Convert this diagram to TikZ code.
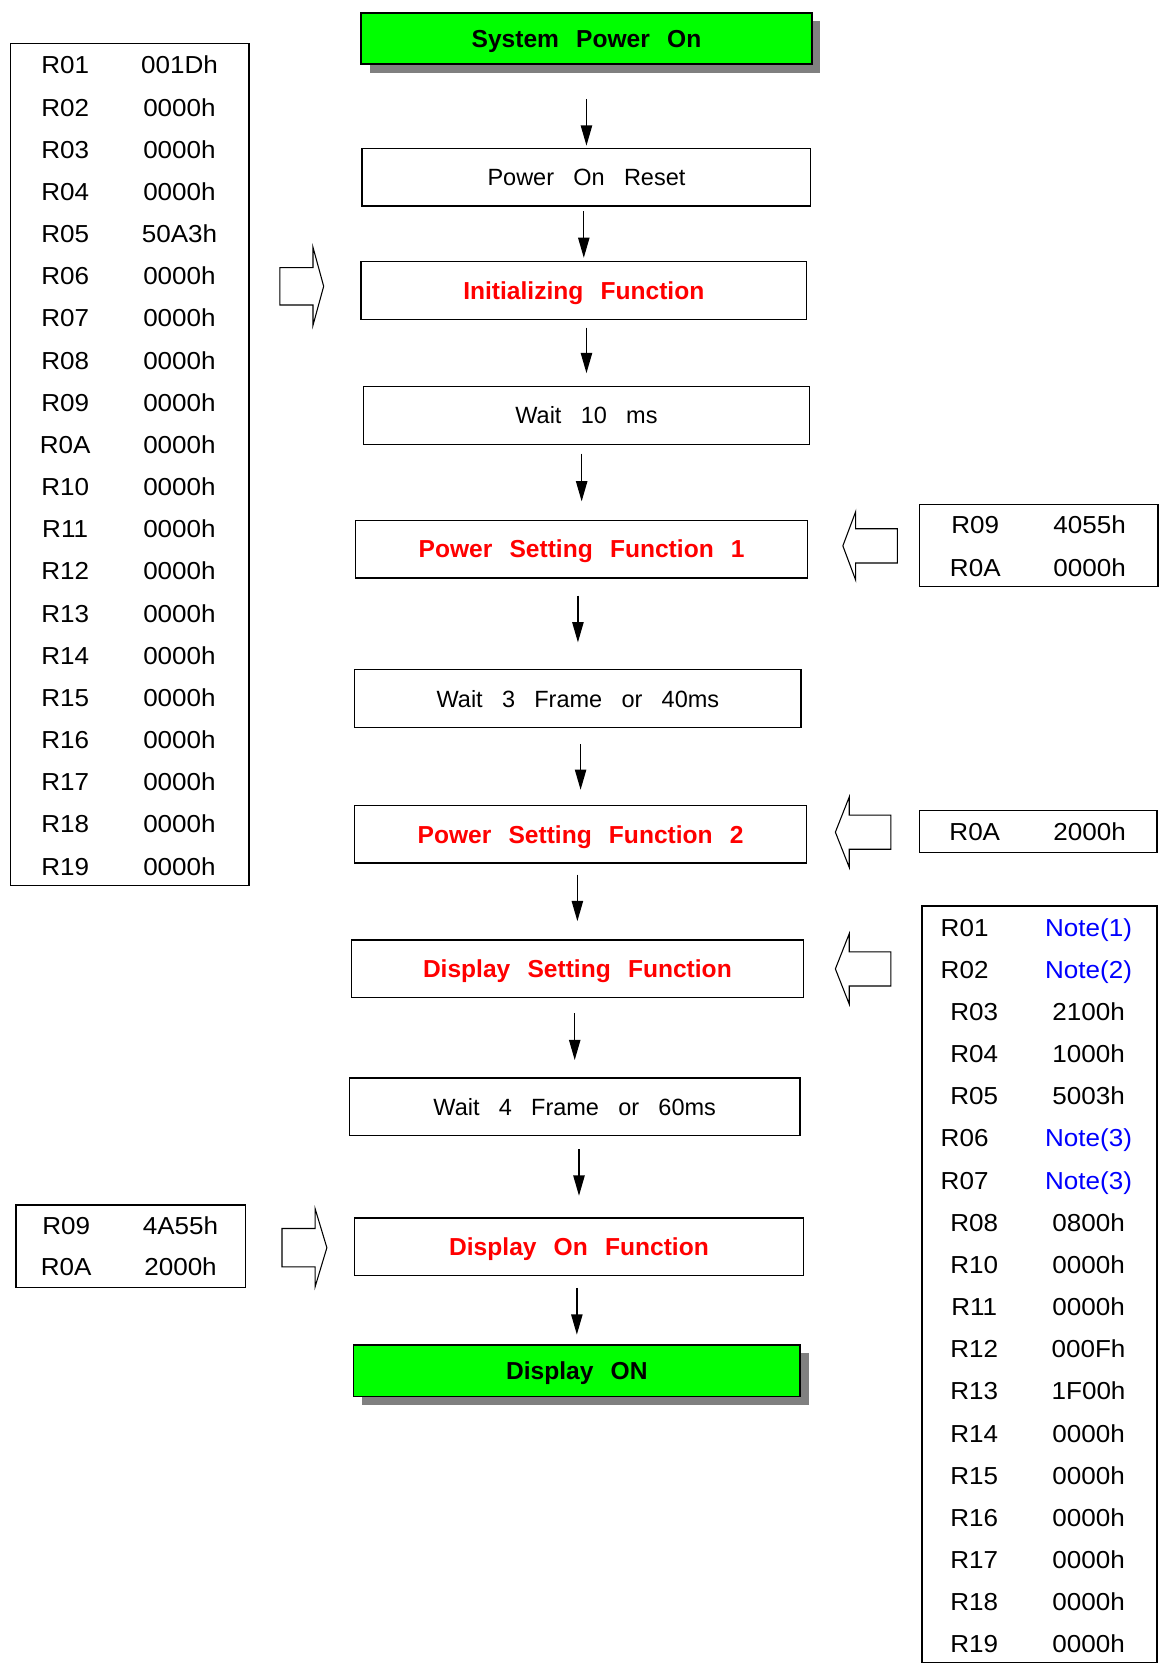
\documentclass[tikz,border=0pt]{standalone}
\usepackage{fontspec}
\setmainfont{Liberation Sans}
\newfontfamily\regfamily[FakeStretch=1.06]{Liberation Sans}
\usepackage{tikz}
\usetikzlibrary{arrows.meta,shadows}
\definecolor{pwgreen}{RGB}{0,255,0}
\definecolor{fnred}{RGB}{255,0,0}
\definecolor{noteblue}{RGB}{0,0,255}
\definecolor{shadowgray}{RGB}{128,128,128}
\newcommand{\stepfont}{\fontsize{22pt}{26pt}\selectfont\spaceskip=0.82em\relax}
\newcommand{\funcfont}{\fontsize{23pt}{27pt}\selectfont\bfseries\spaceskip=0.7em\relax}
\newcommand{\regfont}{\regfamily\fontsize{23pt}{27pt}\selectfont}
\tikzstyle{stepbox} = [rectangle, draw, line width=1.3pt, minimum height=54pt, inner sep=0pt, text height=15.8pt, text depth=0pt, font=\stepfont]
\tikzstyle{funcbox} = [stepbox, font=\funcfont, text=fnred, text height=16.5pt]
\tikzstyle{powerbox} = [stepbox, font=\funcfont, fill=pwgreen, minimum height=48pt, text height=16.5pt, drop shadow={shadow xshift=8pt, shadow yshift=-8pt, fill=shadowgray, opacity=1}]
\tikzstyle{regtable} = [rectangle, draw, line width=1.3pt, inner sep=0pt]
\tikzstyle{regtext} = [inner sep=0pt, text height=16.5pt, text depth=0pt, font=\regfont]
\tikzstyle{flow} = [line width=1.3pt, -{Triangle[length=19pt, width=10.6pt]}]
\tikzstyle{hollow} = [line width=1pt, line join=miter, fill=white]

\begin{document}
\begin{tikzpicture}[x=1pt, y=-1pt]
\useasboundingbox (0,0) rectangle (1093,1568);

% power up sequence
\node[powerbox, minimum width=422pt] (sysOn) at (549,36) {System Power On};
\node[stepbox, minimum width=420pt] (por) at (549,166) {Power On Reset};
\node[funcbox, minimum width=417pt] (init) at (546.5,272) {Initializing Function};
\node[stepbox, minimum width=418pt] (wait10) at (549,389) {Wait 10 ms};
\node[funcbox, minimum width=423pt] (psf1) at (544.5,514) {Power Setting Function 1};
\node[stepbox, minimum width=418pt] (wait3) at (541,654) {Wait 3 Frame or 40ms};
\node[funcbox, minimum width=423pt] (psf2) at (543.5,781) {Power Setting Function 2};
\node[funcbox, minimum width=423pt] (dsf) at (540.5,907) {Display Setting Function};
\node[stepbox, minimum width=422pt] (wait4) at (538,1036) {Wait 4 Frame or 60ms};
\node[funcbox, minimum width=420pt] (don) at (542,1167) {Display On Function};
\node[powerbox, minimum width=418pt] (dispOn) at (540,1283) {Display ON};

\foreach \a/\b/\s/\e in {sysOn/por/32/2, por/init/4/3, init/wait10/7/12, wait10/psf1/8/17, psf1/wait3/16/25, wait3/psf2/15/14, psf2/dsf/10/17, dsf/wait4/14/16, wait4/don/12/20, don/dispOn/11/9}
  \draw[flow, shorten <=\s pt, shorten >=\e pt] (\b.north |- \a.south) -- (\b.north);

% register tables
\node[regtable, minimum width=223pt, minimum height=788pt] (initRegs) at (121.5,435) {};
\foreach \reg/\val [count=\i] in {R01/001Dh, R02/0000h, R03/0000h, R04/0000h, R05/50A3h, R06/0000h, R07/0000h, R08/0000h, R09/0000h, R0A/0000h, R10/0000h, R11/0000h, R12/0000h, R13/0000h, R14/0000h, R15/0000h, R16/0000h, R17/0000h, R18/0000h, R19/0000h} {
  \node[regtext] (initReg\i) at (61,{61+39.47*(\i-1)}) {\reg};
  \node[regtext] (initVal\i) at (168,{61+39.47*(\i-1)}) {\val};
}

\node[regtable, minimum width=223pt, minimum height=77pt] (psfARegs) at (972.5,510.5) {};
\node[regtext] (psfAReg1) at (913,491) {R09};
\node[regtext] (psfAVal1) at (1020,491) {4055h};
\node[regtext] (psfAReg2) at (913,531) {R0A};
\node[regtext] (psfAVal2) at (1020,531) {0000h};

\node[regtable, minimum width=222pt, minimum height=39pt] (psfBRegs) at (972,778.5) {};
\node[regtext] (psfBReg1) at (912.5,779) {R0A};
\node[regtext] (psfBVal1) at (1020,779) {2000h};

\node[regtable, minimum width=220pt, minimum height=708pt] (dsfRegs) at (973,1202) {};
\foreach \reg/\val/\rx [count=\i] in {R01/{\textcolor{noteblue}{Note(1)}}/903, R02/{\textcolor{noteblue}{Note(2)}}/903, R03/2100h/912, R04/1000h/912, R05/5003h/912, R06/{\textcolor{noteblue}{Note(3)}}/903, R07/{\textcolor{noteblue}{Note(3)}}/903, R08/0800h/912, R10/0000h/912, R11/0000h/912, R12/000Fh/912, R13/1F00h/912, R14/0000h/912, R15/0000h/912, R16/0000h/912, R17/0000h/912, R18/0000h/912, R19/0000h/912} {
  \node[regtext] (dsfReg\i) at (\rx,{868+39.47*(\i-1)}) {\reg};
  \node[regtext] (dsfVal\i) at (1019,{868+39.47*(\i-1)}) {\val};
}

\node[regtable, minimum width=215pt, minimum height=77pt] (donRegs) at (122.5,1166.5) {};
\node[regtext] (donReg1) at (62,1147) {R09};
\node[regtext] (donVal1) at (169,1147) {4A55h};
\node[regtext] (donReg2) at (62,1186) {R0A};
\node[regtext] (donVal2) at (169,1186) {2000h};

% hollow block arrows
\draw[hollow] (262,250.5) -- (293,250.5) -- (293,231.5) -- (303,268) -- (293,304.5) -- (293,285.5) -- (262,285.5) -- cycle;
\draw[hollow] (840,495) -- (801,495) -- (801,479) -- (789,511) -- (801,543) -- (801,527) -- (840,527) -- cycle;
\draw[hollow] (834,763) -- (795,763) -- (795,746) -- (782,779) -- (795,812) -- (795,795) -- (834,795) -- cycle;
\draw[hollow] (834,891) -- (795,891) -- (795,874) -- (782,907) -- (795,940) -- (795,923) -- (834,923) -- cycle;
\draw[hollow] (264,1150) -- (295,1150) -- (295,1131.5) -- (306,1168) -- (295,1204.5) -- (295,1186) -- (264,1186) -- cycle;
\end{tikzpicture}
\end{document}
